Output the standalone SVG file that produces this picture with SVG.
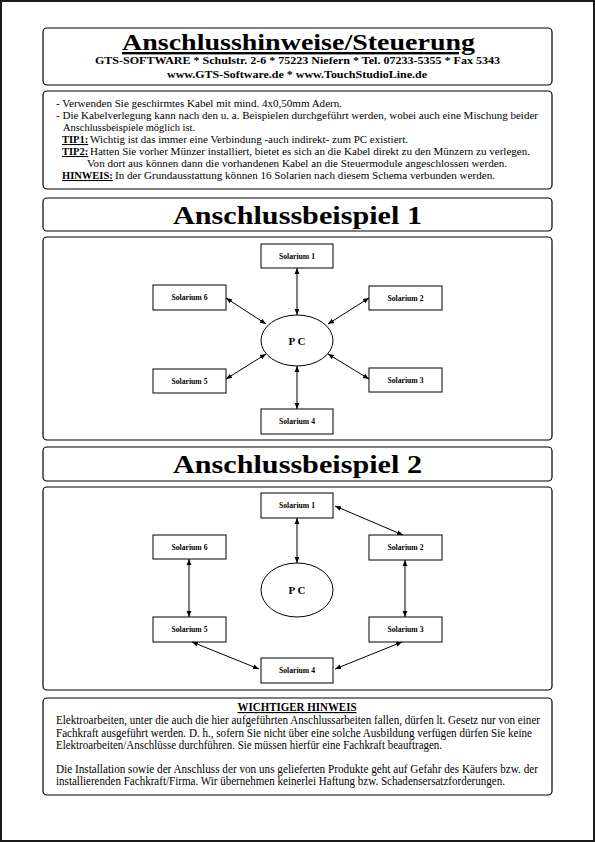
<svg xmlns="http://www.w3.org/2000/svg" width="595" height="842" viewBox="0 0 595 842">
<style>
.box{fill:#fff;stroke:#000;stroke-width:1.2}
.node{fill:#fff;stroke:#000;stroke-width:1}
.t{font-family:"Liberation Serif","Times New Roman",serif;fill:#000}
.b{font-weight:bold}
.lbl{font-family:"Liberation Serif","Times New Roman",serif;font-weight:bold;font-size:7.5px;text-anchor:middle;fill:#000}
.pc{font-family:"Liberation Serif","Times New Roman",serif;font-weight:bold;font-size:11px;text-anchor:middle;fill:#000}
.n{font-size:10.5px}
.w{font-size:11.5px}
.con{stroke:#000;stroke-width:1;fill:none;marker-start:url(#ah);marker-end:url(#ah)}
</style>
<defs>
<marker id="ah" viewBox="0 0 10 10" refX="10" refY="5" markerWidth="6" markerHeight="6" markerUnits="userSpaceOnUse" orient="auto-start-reverse"><path d="M0,1 L10,5 L0,9 z" fill="#000"/></marker>
</defs>
<rect x="0" y="0" width="595" height="842" fill="#fff"/>
<rect x="1" y="1" width="593" height="840" fill="none" stroke="#1a1a1a" stroke-width="2"/>

<g id="header">
<rect class="box" x="43" y="28" width="509" height="57" rx="4"/>
<text class="t b" x="122" y="50" font-size="24" textLength="353" lengthAdjust="spacingAndGlyphs" text-decoration="underline">Anschlusshinweise/Steuerung</text>
<text class="t b" x="95" y="64" font-size="11" textLength="405" lengthAdjust="spacingAndGlyphs">GTS-SOFTWARE * Schulstr. 2-6 * 75223 Niefern * Tel. 07233-5355 * Fax 5343</text>
<text class="t b" x="167" y="78" font-size="11" textLength="260" lengthAdjust="spacingAndGlyphs">www.GTS-Software.de * www.TouchStudioLine.de</text>
</g>

<g id="notes">
<rect class="box" x="43" y="91" width="509" height="98" rx="4"/>
<text class="t n" x="56" y="107" textLength="286" lengthAdjust="spacingAndGlyphs">- Verwenden Sie geschirmtes Kabel mit mind. 4x0,50mm Adern.</text>
<text class="t n" x="56" y="119" textLength="482" lengthAdjust="spacingAndGlyphs">- Die Kabelverlegung kann nach den u. a. Beispielen durchgeführt werden, wobei auch eine Mischung beider</text>
<text class="t n" x="63" y="131" textLength="132" lengthAdjust="spacingAndGlyphs">Anschlussbeispiele möglich ist.</text>
<text class="t n" x="62" y="143"><tspan class="b" text-decoration="underline">TIP1:</tspan></text>
<text class="t n" x="90" y="143" textLength="318" lengthAdjust="spacingAndGlyphs">Wichtig ist das immer eine Verbindung -auch indirekt- zum PC existiert.</text>
<text class="t n" x="62" y="155"><tspan class="b" text-decoration="underline">TIP2:</tspan></text>
<text class="t n" x="90" y="155" textLength="440" lengthAdjust="spacingAndGlyphs">Hatten Sie vorher Münzer installiert, bietet es sich an die Kabel direkt zu den Münzern zu verlegen.</text>
<text class="t n" x="87" y="167" textLength="420" lengthAdjust="spacingAndGlyphs">Von dort aus können dann die vorhandenen Kabel an die Steuermodule angeschlossen werden.</text>
<text class="t n" x="62" y="179"><tspan class="b" text-decoration="underline">HINWEIS:</tspan></text>
<text class="t n" x="115" y="179" textLength="380" lengthAdjust="spacingAndGlyphs">In der Grundausstattung können 16 Solarien nach diesem Schema verbunden werden.</text>
</g>

<g id="title1">
<rect class="box" x="43" y="198" width="509" height="33" rx="4"/>
<text class="t b" x="173" y="224" font-size="26" textLength="249" lengthAdjust="spacingAndGlyphs">Anschlussbeispiel 1</text>
</g>

<g id="diagram1">
<rect class="box" x="43" y="237" width="509" height="203" rx="4"/>
<g id="d1-pc"><ellipse class="node" cx="297" cy="340.5" rx="36" ry="25.5"/><text class="pc" x="297" y="344.5">P C</text></g>
<g id="d1-s1"><rect class="node" x="261" y="244" width="72" height="24"/><text class="lbl" x="297" y="258.5" textLength="36" lengthAdjust="spacingAndGlyphs">Solarium 1</text></g>
<g id="d1-s2"><rect class="node" x="369" y="286" width="73" height="24"/><text class="lbl" x="405.5" y="300.5" textLength="36" lengthAdjust="spacingAndGlyphs">Solarium 2</text></g>
<g id="d1-s3"><rect class="node" x="369" y="368" width="73" height="24"/><text class="lbl" x="405.5" y="382.5" textLength="36" lengthAdjust="spacingAndGlyphs">Solarium 3</text></g>
<g id="d1-s4"><rect class="node" x="261" y="409" width="72" height="25"/><text class="lbl" x="297" y="424" textLength="36" lengthAdjust="spacingAndGlyphs">Solarium 4</text></g>
<g id="d1-s5"><rect class="node" x="153" y="369" width="73" height="24"/><text class="lbl" x="189.5" y="383.5" textLength="36" lengthAdjust="spacingAndGlyphs">Solarium 5</text></g>
<g id="d1-s6"><rect class="node" x="153" y="285" width="73" height="25"/><text class="lbl" x="189.5" y="300" textLength="36" lengthAdjust="spacingAndGlyphs">Solarium 6</text></g>
</g>

<g id="title2">
<rect class="box" x="43" y="447" width="509" height="34" rx="4"/>
<text class="t b" x="173" y="473" font-size="26" textLength="249" lengthAdjust="spacingAndGlyphs">Anschlussbeispiel 2</text>
</g>

<g id="diagram2">
<rect class="box" x="43" y="487" width="509" height="203" rx="4"/>
<g id="d2-pc"><ellipse class="node" cx="297" cy="590" rx="36" ry="27"/><text class="pc" x="297" y="594">P C</text></g>
<g id="d2-s1"><rect class="node" x="261" y="493" width="72" height="25"/><text class="lbl" x="297" y="508" textLength="36" lengthAdjust="spacingAndGlyphs">Solarium 1</text></g>
<g id="d2-s2"><rect class="node" x="369" y="535" width="73" height="25"/><text class="lbl" x="405.5" y="550" textLength="36" lengthAdjust="spacingAndGlyphs">Solarium 2</text></g>
<g id="d2-s3"><rect class="node" x="369" y="617" width="73" height="25"/><text class="lbl" x="405.5" y="632" textLength="36" lengthAdjust="spacingAndGlyphs">Solarium 3</text></g>
<g id="d2-s4"><rect class="node" x="261" y="658" width="72" height="25"/><text class="lbl" x="297" y="673" textLength="36" lengthAdjust="spacingAndGlyphs">Solarium 4</text></g>
<g id="d2-s5"><rect class="node" x="153" y="617" width="73" height="25"/><text class="lbl" x="189.5" y="632" textLength="36" lengthAdjust="spacingAndGlyphs">Solarium 5</text></g>
<g id="d2-s6"><rect class="node" x="153" y="535" width="73" height="24"/><text class="lbl" x="189.5" y="549.5" textLength="36" lengthAdjust="spacingAndGlyphs">Solarium 6</text></g>
</g>

<g id="connectors">
<line class="con" x1="297" y1="268" x2="297" y2="315"/>
<line class="con" x1="226" y1="298" x2="266" y2="324"/>
<line class="con" x1="369" y1="298" x2="328" y2="324"/>
<line class="con" x1="226" y1="379" x2="266" y2="354"/>
<line class="con" x1="369" y1="379" x2="328" y2="354"/>
<line class="con" x1="297" y1="366" x2="297" y2="409"/>
<line class="con" x1="297" y1="518" x2="297" y2="563"/>
<line class="con" x1="335" y1="506" x2="403" y2="535"/>
<line class="con" x1="405" y1="560" x2="405" y2="617"/>
<line class="con" x1="402" y1="642" x2="335" y2="669"/>
<line class="con" x1="259" y1="669" x2="192" y2="642"/>
<line class="con" x1="189" y1="617" x2="189" y2="559"/>
</g>

<g id="warning">
<rect class="box" x="43" y="698" width="509" height="97" rx="4"/>
<text class="t w b" x="297" y="711" text-anchor="middle" textLength="119" lengthAdjust="spacingAndGlyphs" text-decoration="underline">WICHTIGER HINWEIS</text>
<text class="t w" x="56" y="724" textLength="484" lengthAdjust="spacingAndGlyphs">Elektroarbeiten, unter die auch die hier aufgeführten Anschlussarbeiten fallen, dürfen lt. Gesetz nur von einer</text>
<text class="t w" x="56" y="737" textLength="476" lengthAdjust="spacingAndGlyphs">Fachkraft ausgeführt werden. D. h., sofern Sie nicht über eine solche Ausbildung verfügen dürfen Sie keine</text>
<text class="t w" x="56" y="749" textLength="386" lengthAdjust="spacingAndGlyphs">Elektroarbeiten/Anschlüsse durchführen. Sie müssen hierfür eine Fachkraft beauftragen.</text>
<text class="t w" x="56" y="773" textLength="482" lengthAdjust="spacingAndGlyphs">Die Installation sowie der Anschluss der von uns gelieferten Produkte geht auf Gefahr des Käufers bzw. der</text>
<text class="t w" x="56" y="785" textLength="449" lengthAdjust="spacingAndGlyphs">installierenden Fachkraft/Firma. Wir übernehmen keinerlei Haftung bzw. Schadensersatzforderungen.</text>
</g>
</svg>
